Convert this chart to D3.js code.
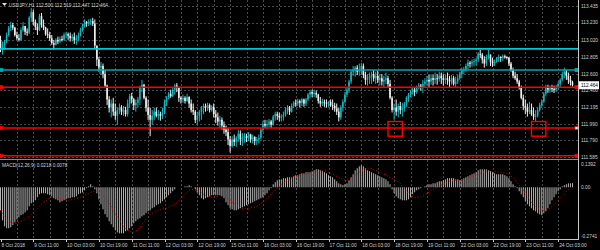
<!DOCTYPE html>
<html>
<head>
<meta charset="utf-8">
<script src="https://cdn.jsdelivr.net/npm/d3@7"></script>
<style>
  body { margin: 0; background: #000; }
  svg { display: block; }
</style>
</head>
<body>
<div id="chart"></div>
<script>
// USDJPY H1 candles (bar 0 = 8 Oct 19:00)
const title = "USDJPY,H1";
const lastOHLC = [112.500, 112.519, 112.447, 112.464];
const firstOpen = 113.02;

const highs = [
  113.07,113.00,113.02,113.11,113.19,113.24,113.23,113.18,113.12,113.09,
  113.17,113.24,113.18,113.16,113.31,113.41,113.39,113.27,113.22,113.34,
  113.35,113.27,113.18,113.16,113.12,113.08,113.02,113.04,113.06,113.06,
  113.07,113.11,113.12,113.11,113.11,113.09,113.11,113.08,113.11,113.17,
  113.22,113.27,113.25,113.27,113.28,113.29,113.27,112.95,112.81,112.75,
  112.73,112.65,112.47,112.33,112.29,112.31,112.24,112.19,112.24,112.22,
  112.21,112.20,112.29,112.36,112.37,112.31,112.29,112.32,112.46,112.53,
  112.48,112.33,112.29,112.19,112.16,112.19,112.19,112.16,112.14,112.19,
  112.29,112.33,112.38,112.41,112.43,112.48,112.49,112.44,112.33,112.35,
  112.33,112.36,112.33,112.29,112.24,112.16,112.14,112.16,112.21,112.24,
  112.24,112.25,112.24,112.22,112.24,112.16,112.13,112.09,112.07,112.02,
  111.97,111.94,111.84,111.84,111.86,111.84,111.92,111.91,111.88,111.88,
  111.87,111.89,111.87,111.86,111.84,111.83,111.86,111.94,112.03,112.04,
  112.04,112.05,112.04,112.10,112.14,112.14,112.13,112.11,112.14,112.19,
  112.22,112.21,112.24,112.27,112.29,112.30,112.29,112.31,112.30,112.31,
  112.37,112.41,112.41,112.41,112.40,112.36,112.32,112.30,112.29,112.29,
  112.27,112.29,112.29,112.25,112.24,112.19,112.22,112.29,112.38,112.43,
  112.53,112.65,112.70,112.70,112.71,112.73,112.74,112.73,112.63,112.60,
  112.62,112.63,112.65,112.63,112.64,112.60,112.60,112.58,112.62,112.58,
  112.53,112.33,112.24,112.29,112.24,112.26,112.25,112.26,112.33,112.37,
  112.41,112.43,112.44,112.46,112.49,112.48,112.53,112.55,112.58,112.59,
  112.60,112.59,112.62,112.60,112.63,112.62,112.60,112.59,112.62,112.58,
  112.59,112.58,112.57,112.59,112.63,112.68,112.69,112.73,112.78,112.76,
  112.78,112.79,112.80,112.87,112.90,112.86,112.82,112.84,112.90,112.84,
  112.80,112.78,112.81,112.84,112.82,112.84,112.84,112.82,112.81,112.75,
  112.68,112.63,112.60,112.53,112.46,112.35,112.29,112.24,112.26,112.24,
  112.19,112.16,112.19,112.25,112.29,112.38,112.47,112.47,112.46,112.47,
  112.46,112.47,112.51,112.55,112.63,112.68,112.65,112.62,112.58,112.519
];
const lows = [
  112.87,112.84,112.90,112.98,113.06,113.13,113.14,113.06,113.02,113.00,
  113.01,113.12,113.08,113.07,113.09,113.24,113.20,113.14,113.08,113.13,
  113.17,113.14,113.07,113.04,113.01,112.96,112.90,112.95,112.97,112.98,
  113.00,113.01,113.04,113.02,113.00,113.00,112.97,112.96,113.00,113.06,
  113.12,113.17,113.18,113.19,113.20,113.19,112.92,112.70,112.63,112.59,
  112.55,112.43,112.22,112.13,112.07,112.09,112.04,111.98,112.11,112.10,
  112.09,112.08,112.08,112.19,112.24,112.16,112.14,112.19,112.22,112.38,
  112.29,112.14,112.04,111.84,111.98,112.04,112.07,112.04,112.03,112.05,
  112.11,112.21,112.29,112.31,112.32,112.35,112.38,112.26,112.24,112.25,
  112.24,112.26,112.19,112.13,112.10,112.00,111.98,112.02,112.04,112.11,
  112.14,112.15,112.13,112.14,112.07,112.00,111.97,111.94,111.92,111.87,
  111.84,111.73,111.64,111.70,111.72,111.71,111.77,111.73,111.72,111.76,
  111.77,111.78,111.76,111.75,111.73,111.73,111.75,111.80,111.89,111.94,
  111.93,111.95,111.94,111.97,112.03,112.04,112.02,112.02,112.03,112.08,
  112.11,112.10,112.13,112.19,112.20,112.21,112.19,112.21,112.20,112.21,
  112.27,112.31,112.32,112.32,112.31,112.24,112.20,112.21,112.20,112.19,
  112.20,112.20,112.16,112.14,112.10,112.02,112.04,112.14,112.24,112.32,
  112.37,112.48,112.58,112.57,112.59,112.58,112.60,112.55,112.47,112.46,
  112.48,112.48,112.51,112.48,112.49,112.46,112.46,112.44,112.48,112.43,
  112.29,112.13,112.04,112.09,112.07,112.11,112.08,112.14,112.20,112.26,
  112.32,112.35,112.33,112.36,112.41,112.40,112.37,112.43,112.46,112.44,
  112.47,112.46,112.48,112.47,112.51,112.48,112.46,112.48,112.47,112.44,
  112.47,112.46,112.44,112.48,112.53,112.55,112.60,112.63,112.65,112.68,
  112.69,112.70,112.71,112.75,112.80,112.73,112.68,112.70,112.78,112.70,
  112.69,112.70,112.74,112.75,112.75,112.76,112.79,112.78,112.70,112.63,
  112.55,112.53,112.48,112.41,112.29,112.16,112.11,112.08,112.11,112.09,
  112.04,112.02,112.07,112.14,112.19,112.25,112.33,112.37,112.37,112.38,
  112.37,112.38,112.41,112.43,112.51,112.55,112.53,112.48,112.46,112.447
];
const closes = [
  112.92,112.96,113.00,113.08,113.17,113.20,113.17,113.08,113.04,113.02,
  113.14,113.19,113.12,113.11,113.29,113.36,113.24,113.18,113.14,113.31,
  113.20,113.17,113.09,113.08,113.04,112.98,112.96,113.02,113.00,113.03,
  113.02,113.08,113.09,113.07,113.04,113.06,113.02,113.04,113.07,113.14,
  113.19,113.24,113.22,113.24,113.25,113.22,112.95,112.78,112.68,112.70,
  112.60,112.46,112.29,112.19,112.24,112.14,112.09,112.16,112.19,112.14,
  112.16,112.11,112.24,112.33,112.29,112.22,112.25,112.29,112.43,112.47,
  112.31,112.19,112.10,112.04,112.09,112.14,112.09,112.11,112.09,112.14,
  112.26,112.31,112.36,112.33,112.41,112.46,112.43,112.31,112.29,112.31,
  112.27,112.32,112.24,112.16,112.14,112.04,112.09,112.14,112.19,112.21,
  112.19,112.22,112.16,112.20,112.11,112.07,112.02,112.04,111.97,111.92,
  111.89,111.80,111.72,111.80,111.77,111.82,111.87,111.80,111.82,111.84,
  111.82,111.86,111.80,111.83,111.78,111.80,111.82,111.92,111.99,111.97,
  111.99,112.02,111.98,112.08,112.11,112.09,112.07,112.08,112.10,112.16,
  112.19,112.14,112.21,112.25,112.24,112.27,112.25,112.29,112.24,112.29,
  112.35,112.38,112.36,112.37,112.35,112.27,112.24,112.26,112.25,112.24,
  112.26,112.22,112.21,112.18,112.14,112.07,112.19,112.26,112.35,112.41,
  112.51,112.63,112.65,112.68,112.63,112.65,112.70,112.59,112.53,112.55,
  112.58,112.60,112.55,112.58,112.53,112.55,112.51,112.53,112.55,112.48,
  112.31,112.16,112.19,112.14,112.21,112.16,112.19,112.24,112.31,112.35,
  112.38,112.41,112.38,112.43,112.46,112.43,112.48,112.51,112.53,112.51,
  112.55,112.53,112.55,112.54,112.58,112.55,112.53,112.55,112.53,112.51,
  112.55,112.48,112.51,112.55,112.60,112.65,112.66,112.70,112.74,112.73,
  112.75,112.76,112.78,112.85,112.84,112.78,112.73,112.81,112.84,112.75,
  112.73,112.75,112.80,112.81,112.80,112.82,112.81,112.80,112.73,112.65,
  112.58,112.55,112.51,112.43,112.31,112.21,112.19,112.14,112.16,112.11,
  112.08,112.09,112.16,112.22,112.26,112.36,112.43,112.41,112.43,112.42,
  112.41,112.44,112.48,112.53,112.60,112.63,112.58,112.53,112.50,112.464
];
// each H1 bar opens where the previous one closed
const opens = [firstOpen, ...closes.slice(0, -1)];

// MACD(12,26,9): main line (histogram) and signal (dotted)
const macdMain = [
  -0.122,-0.175,-0.207,-0.217,-0.217,-0.212,-0.201,-0.186,-0.170,-0.159,
  -0.148,-0.143,-0.133,-0.122,-0.101,-0.085,-0.080,-0.069,-0.053,-0.037,
  -0.032,-0.032,-0.032,-0.037,-0.042,-0.048,-0.058,-0.064,-0.069,-0.080,
  -0.074,-0.069,-0.064,-0.058,-0.058,-0.053,-0.053,-0.048,-0.037,-0.032,
  -0.027,-0.016,-0.005,0.005,0.016,0.005,-0.011,-0.032,-0.064,-0.090,
  -0.117,-0.143,-0.159,-0.180,-0.196,-0.212,-0.228,-0.239,-0.244,-0.244,
  -0.244,-0.233,-0.228,-0.217,-0.207,-0.191,-0.180,-0.170,-0.164,-0.154,
  -0.148,-0.138,-0.127,-0.122,-0.111,-0.106,-0.095,-0.090,-0.085,-0.074,
  -0.064,-0.053,-0.042,-0.032,-0.021,-0.011,0.000,0.000,0.000,0.000,
  0.005,0.005,0.011,0.005,0.000,-0.011,-0.027,-0.042,-0.058,-0.064,
  -0.058,-0.053,-0.048,-0.042,-0.042,-0.042,-0.042,-0.042,-0.048,-0.058,
  -0.080,-0.095,-0.111,-0.117,-0.122,-0.122,-0.117,-0.111,-0.106,-0.101,
  -0.095,-0.090,-0.085,-0.080,-0.074,-0.069,-0.064,-0.058,-0.053,-0.042,
  -0.032,-0.016,-0.005,0.016,0.027,0.037,0.042,0.042,0.048,0.048,
  0.053,0.053,0.053,0.058,0.064,0.064,0.069,0.074,0.074,0.080,
  0.080,0.080,0.085,0.090,0.095,0.095,0.090,0.085,0.080,0.074,
  0.064,0.058,0.053,0.042,0.032,0.021,0.016,0.011,0.016,0.021,
  0.037,0.053,0.069,0.090,0.101,0.111,0.117,0.111,0.101,0.090,
  0.085,0.080,0.074,0.069,0.064,0.058,0.053,0.048,0.042,0.032,
  0.016,-0.011,-0.032,-0.048,-0.058,-0.064,-0.069,-0.069,-0.069,-0.064,
  -0.053,-0.037,-0.027,-0.016,-0.011,-0.005,0.000,0.005,0.011,0.016,
  0.016,0.021,0.021,0.027,0.032,0.032,0.037,0.042,0.048,0.048,
  0.048,0.048,0.042,0.042,0.037,0.042,0.048,0.053,0.058,0.064,
  0.069,0.074,0.080,0.090,0.095,0.095,0.095,0.095,0.090,0.085,
  0.080,0.074,0.069,0.069,0.069,0.069,0.064,0.058,0.048,0.032,
  0.016,0.005,-0.005,-0.021,-0.037,-0.053,-0.074,-0.090,-0.101,-0.111,
  -0.122,-0.127,-0.138,-0.143,-0.148,-0.138,-0.127,-0.111,-0.090,-0.069,
  -0.053,-0.037,-0.021,-0.011,0.005,0.011,0.016,0.021,0.021,0.0218
];
const macdSignal = [
  -0.122,-0.143,-0.159,-0.170,-0.180,-0.186,-0.191,-0.191,-0.191,-0.186,
  -0.180,-0.175,-0.170,-0.159,-0.154,-0.143,-0.133,-0.122,-0.111,-0.101,
  -0.090,-0.080,-0.074,-0.064,-0.058,-0.053,-0.053,-0.053,-0.058,-0.058,
  -0.064,-0.064,-0.069,-0.069,-0.069,-0.064,-0.064,-0.058,-0.058,-0.053,
  -0.048,-0.042,-0.037,-0.032,-0.027,-0.021,-0.021,-0.021,-0.027,-0.037,
  -0.048,-0.058,-0.069,-0.085,-0.101,-0.122,-0.138,-0.159,-0.175,-0.191,
  -0.207,-0.217,-0.228,-0.233,-0.239,-0.239,-0.233,-0.223,-0.212,-0.196,
  -0.186,-0.170,-0.159,-0.148,-0.138,-0.133,-0.127,-0.122,-0.117,-0.111,
  -0.111,-0.111,-0.106,-0.101,-0.095,-0.090,-0.080,-0.069,-0.058,-0.048,
  -0.037,-0.027,-0.016,-0.011,-0.011,-0.016,-0.016,-0.021,-0.027,-0.037,
  -0.042,-0.048,-0.053,-0.053,-0.053,-0.048,-0.048,-0.042,-0.042,-0.048,
  -0.053,-0.064,-0.069,-0.080,-0.085,-0.095,-0.101,-0.111,-0.111,-0.111,
  -0.111,-0.111,-0.106,-0.106,-0.106,-0.101,-0.095,-0.085,-0.080,-0.069,
  -0.058,-0.048,-0.037,-0.027,-0.016,-0.005,0.005,0.016,0.021,0.032,
  0.037,0.042,0.048,0.053,0.058,0.058,0.064,0.064,0.069,0.069,
  0.074,0.074,0.080,0.080,0.085,0.085,0.090,0.090,0.085,0.085,
  0.080,0.074,0.069,0.064,0.058,0.053,0.048,0.042,0.037,0.037,
  0.042,0.048,0.053,0.064,0.069,0.080,0.085,0.090,0.095,0.101,
  0.101,0.101,0.095,0.090,0.085,0.080,0.074,0.069,0.064,0.058,
  0.053,0.048,0.042,0.032,0.027,0.021,0.005,-0.005,-0.021,-0.032,
  -0.042,-0.048,-0.053,-0.053,-0.053,-0.053,-0.048,-0.042,-0.032,-0.027,
  -0.016,-0.011,-0.005,0.000,0.005,0.011,0.016,0.021,0.027,0.032,
  0.032,0.037,0.037,0.037,0.037,0.037,0.042,0.042,0.048,0.053,
  0.058,0.064,0.069,0.069,0.074,0.080,0.080,0.085,0.085,0.085,
  0.085,0.085,0.085,0.080,0.080,0.080,0.074,0.074,0.069,0.058,
  0.053,0.042,0.027,0.011,0.000,-0.016,-0.032,-0.048,-0.064,-0.080,
  -0.090,-0.101,-0.111,-0.117,-0.122,-0.122,-0.122,-0.117,-0.111,-0.101,
  -0.090,-0.080,-0.069,-0.058,-0.048,-0.037,-0.021,-0.011,0.000,0.0078
];

const priceTicks = [113.435, 113.230, 113.020, 112.805, 112.600, 112.400, 112.195, 111.990, 111.790, 111.585];
const macdTicks = [0.1392, 0.00, -0.2741];
const timeLabels = ["8 Oct 2018", "9 Oct 11:00", "10 Oct 03:00", "10 Oct 19:00", "11 Oct 11:00",
  "12 Oct 03:00", "12 Oct 19:00", "15 Oct 11:00", "16 Oct 03:00", "16 Oct 19:00", "17 Oct 11:00",
  "18 Oct 03:00", "18 Oct 19:00", "19 Oct 11:00", "22 Oct 03:00", "22 Oct 19:00", "23 Oct 11:00", "24 Oct 03:00"];
const labelEvery = 16; // bars between time labels

// drawn objects
const cyanLevels = [112.91, 112.65];
const redLevels = [112.44, 111.94, 111.60];
const boxBars = [[189, 196], [259, 266]];
const boxPrices = [112.02, 111.84];

const W = 600, H = 250, axisX = 578;
const font = "'Liberation Sans', Arial, sans-serif";
const fs = 4.8;

const svg = d3.select("#chart").append("svg").attr("width", W).attr("height", H)
  .style("background", "#000");

const x = d3.scaleLinear().domain([0, closes.length - 1]).range([0.5, 572.5]);
const y = d3.scaleLinear().domain([111.585, 113.435]).range([157, 6]);
const ym = d3.scaleLinear().domain([-0.2741, 0.1392]).range([239, 161]);

// grid
const grid = svg.append("g").attr("stroke", "#4a4a4a").attr("stroke-dasharray", "2,2");
grid.selectAll(".hg").data(priceTicks).join("line")
  .attr("x1", 0).attr("x2", axisX).attr("y1", d => Math.round(y(d)) + 0.5).attr("y2", d => Math.round(y(d)) + 0.5);
const vBars = d3.range(8, closes.length, 8);
grid.selectAll(".vg").data(vBars).join("line")
  .attr("x1", d => Math.round(x(d)) + 0.5).attr("x2", d => Math.round(x(d)) + 0.5)
  .attr("y1", 0).attr("y2", 239);

// candles
const candles = svg.append("g");
closes.forEach((c, i) => {
  const o = opens[i];
  const up = c >= o;
  const col = up ? "#12b7bf" : "#f0f0f0";
  const hi = Math.max(highs[i], o, c), lo = Math.min(lows[i], o, c);
  candles.append("line")
    .attr("x1", x(i)).attr("x2", x(i)).attr("y1", y(hi)).attr("y2", y(lo))
    .attr("stroke", col).attr("stroke-width", 1);
  const top = y(Math.max(o, c)), bot = y(Math.min(o, c));
  candles.append("rect")
    .attr("x", x(i) - 0.8).attr("width", 1.6)
    .attr("y", top).attr("height", Math.max(1, bot - top))
    .attr("fill", col);
});

// horizontal lines
const lines = svg.append("g");
cyanLevels.forEach((p, k) => {
  lines.append("line").attr("x1", 0).attr("x2", axisX).attr("y1", y(p)).attr("y2", y(p))
    .attr("stroke", k === 0 ? "#00c8d2" : "#00a9b4").attr("stroke-width", 1.6);
});
redLevels.forEach(p => {
  lines.append("line").attr("x1", 0).attr("x2", axisX).attr("y1", y(p)).attr("y2", y(p))
    .attr("stroke", "#ff0000").attr("stroke-width", 1.4);
});
// selection handles at line ends
const handles = [[cyanLevels[1], "#00a9b4"], ...redLevels.map(p => [p, "#ff0000"])];
handles.forEach(([p, c], k) => {
  [0, axisX - 3].forEach((hx, side) => {
    lines.append("rect").attr("x", hx).attr("y", y(p) - 1.5).attr("width", 3).attr("height", 3)
      .attr("fill", side === 1 && k === 2 ? "#fff" : c).attr("stroke", c).attr("stroke-width", 0.8);
  });
});

// boxes
boxBars.forEach(([a, b]) => {
  svg.append("rect")
    .attr("x", x(a)).attr("width", x(b) - x(a))
    .attr("y", y(boxPrices[0])).attr("height", y(boxPrices[1]) - y(boxPrices[0]))
    .attr("fill", "none").attr("stroke", "#ff0000").attr("stroke-width", 1.4);
});

// window separator and price axis
svg.append("line").attr("x1", 0).attr("x2", axisX).attr("y1", 159.5).attr("y2", 159.5)
  .attr("stroke", "#8a8a8a").attr("stroke-width", 1);
svg.append("line").attr("x1", axisX + 0.5).attr("x2", axisX + 0.5).attr("y1", 0).attr("y2", 240)
  .attr("stroke", "#c8c8c8").attr("stroke-width", 1);
svg.append("line").attr("x1", 0).attr("x2", axisX).attr("y1", 239.5).attr("y2", 239.5)
  .attr("stroke", "#c8c8c8").attr("stroke-width", 1);

// MACD histogram + signal
const macd = svg.append("g");
macd.selectAll("line").data(macdMain).join("line")
  .attr("x1", (d, i) => x(i)).attr("x2", (d, i) => x(i))
  .attr("y1", ym(0)).attr("y2", d => ym(d))
  .attr("stroke", "#b4b4b4").attr("stroke-width", 1);
macd.append("path").datum(macdSignal)
  .attr("d", d3.line().x((d, i) => x(i)).y(d => ym(d)))
  .attr("fill", "none").attr("stroke", "#e00000").attr("stroke-width", 1)
  .attr("stroke-dasharray", "1,2");

// texts
const txt = svg.append("g").attr("font-family", font).attr("font-size", fs).attr("fill", "#d0d0d0");
txt.selectAll(".pt").data(priceTicks).join("text")
  .attr("x", axisX + 3).attr("y", d => y(d)).attr("dy", "0.35em").text(d => d.toFixed(3));
txt.selectAll(".mt").data(macdTicks).join("text")
  .attr("x", axisX + 3)
  .attr("y", (d, i) => ym(d) + (i === 0 ? 3 : i === 2 ? -3 : 0)).attr("dy", "0.35em")
  .text(d => d === 0 ? "0.00" : d.toFixed(4));
txt.selectAll(".tl").data(timeLabels).join("text")
  .attr("x", (d, i) => x(i * labelEvery) + 1).attr("y", 246.5).text(d => d);
txt.selectAll(".tk").data(timeLabels).join("line")
  .attr("x1", (d, i) => Math.round(x(i * labelEvery)) + 0.5).attr("x2", (d, i) => Math.round(x(i * labelEvery)) + 0.5)
  .attr("y1", 240).attr("y2", 242).attr("stroke", "#c8c8c8");

// current price marker
const last = closes[closes.length - 1];
svg.append("rect").attr("x", axisX + 1).attr("y", y(last) - 4).attr("width", 20).attr("height", 8).attr("fill", "#fff");
svg.append("text").attr("x", axisX + 3).attr("y", y(last)).attr("dy", "0.35em")
  .attr("font-family", font).attr("font-size", fs).attr("fill", "#000").text(last.toFixed(3));

// headers
svg.append("path").attr("d", "M2,3 L7,3 L4.5,6 Z").attr("fill", "#e0e0e0");
txt.append("text").attr("x", 9).attr("y", 6.5)
  .text(`${title}  ${lastOHLC.map(v => v.toFixed(3)).join(" ")}`);
txt.append("text").attr("x", 2).attr("y", 167)
  .text(`MACD(12,26,9) ${macdMain[macdMain.length - 1].toFixed(4)} ${macdSignal[macdSignal.length - 1].toFixed(4)}`);
</script>
</body>
</html>
